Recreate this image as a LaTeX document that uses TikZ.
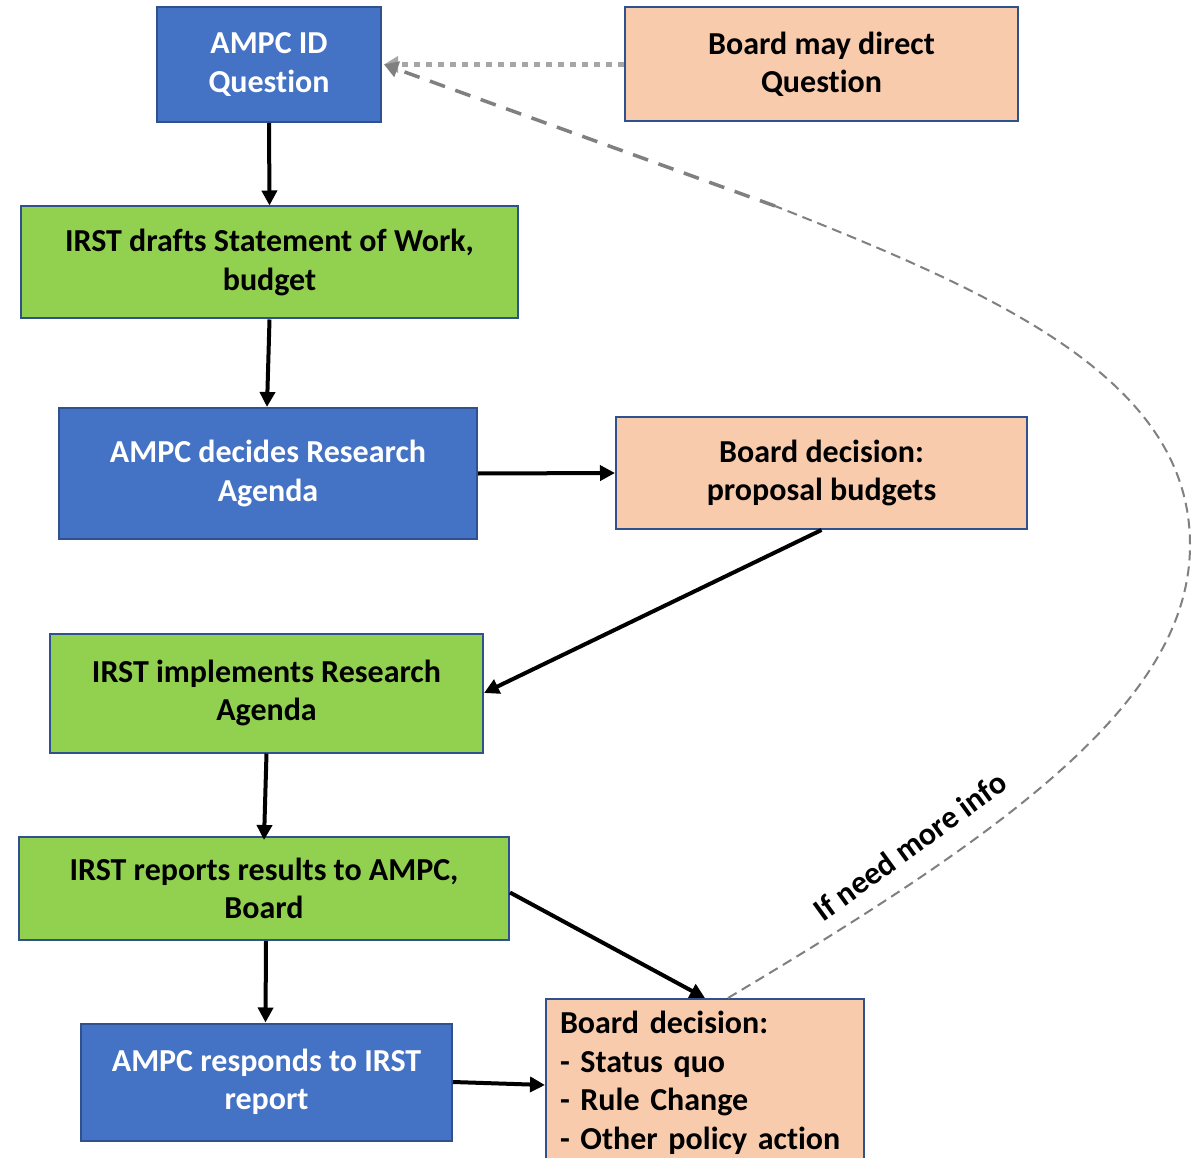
\documentclass[tikz,border=0pt]{standalone}
\usepackage{fontspec}
\setmainfont{Carlito}[Ligatures=NoCommon]
\usetikzlibrary{arrows.meta}
\definecolor{bblue}{HTML}{4472C4}
\definecolor{bgreen}{HTML}{92D050}
\definecolor{bpeach}{HTML}{F8CBAD}
\definecolor{bedge}{HTML}{2F528F}
\definecolor{dgray}{HTML}{808080}
\definecolor{lgray}{HTML}{A6A6A6}
\begin{document}
\begin{tikzpicture}[x=1pt,y=-1pt,
  box/.style={draw=bedge,line width=2pt,align=center,inner sep=0pt,
    font=\fontsize{32}{38.5}\selectfont\bfseries},
  bluebox/.style={box,fill=bblue,text=white},
  greenbox/.style={box,fill=bgreen,text=black},
  peachbox/.style={box,fill=bpeach,text=black},
  arr/.style={line width=4pt,-{Triangle[length=15pt,width=15pt]}}
]
\useasboundingbox (0,0) rectangle (1202,1158);
\fill[white] (0,0) rectangle (1202,1158);

\node[bluebox,minimum width=224,minimum height=115] (aid) at (269,64.5) {AMPC ID\\Question};
\node[peachbox,minimum width=393,minimum height=114] (bmd) at (821.5,64.5) {Board may direct\\Question};
\node[greenbox,minimum width=497,minimum height=112] (draft) at (269.5,262.5) {IRST drafts Statement of Work,\\budget};
\node[bluebox,minimum width=418,minimum height=131] (agenda) at (268,473.5) {AMPC decides Research\\Agenda};
\node[peachbox,minimum width=411,minimum height=112] (bud) at (821.5,473) {Board decision:\\proposal budgets};
\node[greenbox,minimum width=433,minimum height=119] (impl) at (266.5,693) {IRST implements Research\\Agenda};
\node[greenbox,minimum width=490,minimum height=103] (rep) at (264,888.5) {IRST reports results to AMPC,\\Board};
\node[bluebox,minimum width=371,minimum height=117] (resp) at (266.5,1082) {AMPC responds to IRST\\report};
\node[peachbox,minimum width=318,minimum height=168,text width=290,align=left] (dec) at (705,1083)
  {Board decision:\\- Status quo\\- Rule Change\\- Other policy action};

\draw[arr] (aid.south) -- (draft.north);
\draw[arr] (draft.south) -- ([xshift=-1]agenda.north);
\draw[arr] (agenda.east) -- (bud.west);
\draw[arr] (bud.south) -- (impl.east);
\draw[arr] (impl.south) -- ([yshift=-4]rep.north);
\draw[arr] ([xshift=2]rep.south) -- ([xshift=-1]resp.north);
\draw[arr] ([yshift=-4]rep.east) -- (dec.north);
\draw[arr] (resp.east) -- ([yshift=-2]dec.west);

\draw[lgray,line width=5pt,dash pattern=on 6pt off 6pt,-{Triangle[length=14pt,width=16pt]}] (bmd.west) -- ([xshift=2]aid.east);

\coordinate (cm) at (775,206);
\draw[dgray,line width=2pt,dash pattern=on 10pt off 6pt]
  ([xshift=23]dec.north) .. controls (1010,830) and (1190,700) .. (1190,545)
  .. controls (1190,380) and (1000,295) .. (cm);
\draw[dgray,line width=3.5pt,dash pattern=on 16pt off 11pt,-{Triangle[length=14pt,width=16pt]}]
  (cm) -- ([xshift=2]aid.east);

\node[font=\fontsize{32}{38}\selectfont\bfseries,rotate=36] (lbl) at (910,846) {If need more info};
\end{tikzpicture}
\end{document}
